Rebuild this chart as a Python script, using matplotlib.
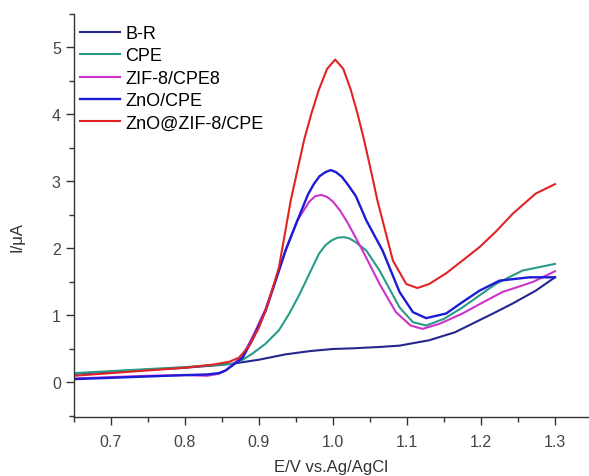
import matplotlib
matplotlib.use("Agg")
import matplotlib.pyplot as plt
from matplotlib.ticker import MultipleLocator

plt.rcParams['font.family'] = ['Liberation Sans', 'DejaVu Sans']

# B-R (bare electrode / buffer)
br_x = [0.65, 0.70, 0.75, 0.80, 0.846, 0.864, 0.90, 0.936, 0.97, 1.0, 1.027,
        1.063, 1.09, 1.13, 1.165, 1.198, 1.22, 1.243, 1.274, 1.30]
br_y = [0.13, 0.16, 0.19, 0.22, 0.26, 0.28, 0.34, 0.42, 0.47, 0.50, 0.51,
        0.53, 0.55, 0.63, 0.75, 0.93, 1.05, 1.18, 1.37, 1.57]

# CPE
cpe_x = [0.65, 0.70, 0.75, 0.80, 0.84, 0.864, 0.878, 0.891, 0.909, 0.927, 0.941,
         0.955, 0.968, 0.981, 0.990, 0.998, 1.006, 1.015, 1.022, 1.030, 1.045,
         1.063, 1.090, 1.108, 1.126, 1.15, 1.175, 1.198, 1.220, 1.256, 1.30]
cpe_y = [0.14, 0.17, 0.20, 0.23, 0.26, 0.28, 0.34, 0.43, 0.58, 0.78, 1.03,
         1.32, 1.62, 1.92, 2.05, 2.12, 2.16, 2.17, 2.15, 2.10, 1.97,
         1.67, 1.12, 0.90, 0.85, 0.95, 1.12, 1.30, 1.47, 1.67, 1.77]

# ZIF-8/CPE8
zif_x = [0.65, 0.70, 0.75, 0.80, 0.83, 0.846, 0.855, 0.866, 0.878, 0.893, 0.909,
         0.922, 0.936, 0.952, 0.968, 0.976, 0.984, 0.992, 1.000, 1.010, 1.020,
         1.040, 1.063, 1.085, 1.105, 1.121, 1.145, 1.175, 1.20, 1.229, 1.270, 1.30]
zif_y = [0.06, 0.08, 0.10, 0.11, 0.10, 0.13, 0.18, 0.28, 0.40, 0.72, 1.10,
         1.52, 1.98, 2.42, 2.70, 2.78, 2.80, 2.77, 2.70, 2.56, 2.38,
         1.97, 1.47, 1.05, 0.85, 0.80, 0.88, 1.03, 1.18, 1.35, 1.50, 1.66]

# ZnO/CPE
zno_x = [0.65, 0.70, 0.75, 0.80, 0.83, 0.846, 0.855, 0.866, 0.878, 0.893, 0.909,
         0.922, 0.936, 0.952, 0.966, 0.974, 0.982, 0.990, 0.997, 1.004, 1.012,
         1.021, 1.031, 1.045, 1.067, 1.090, 1.108, 1.126, 1.153, 1.175, 1.198,
         1.225, 1.266, 1.30]
zno_y = [0.05, 0.07, 0.09, 0.11, 0.12, 0.14, 0.18, 0.27, 0.37, 0.68, 1.07,
         1.50, 1.97, 2.42, 2.80, 2.96, 3.08, 3.14, 3.17, 3.14, 3.07,
         2.94, 2.78, 2.42, 1.97, 1.35, 1.05, 0.96, 1.03, 1.20, 1.37,
         1.52, 1.57, 1.57]

# ZnO@ZIF-8/CPE
comp_x = [0.65, 0.70, 0.75, 0.80, 0.84, 0.86, 0.873, 0.887, 0.90, 0.913, 0.927,
          0.943, 0.961, 0.971, 0.981, 0.992, 1.003, 1.014, 1.024, 1.033, 1.042,
          1.051, 1.060, 1.081, 1.099, 1.114, 1.13, 1.153, 1.175, 1.198, 1.22,
          1.243, 1.274, 1.30]
comp_y = [0.10, 0.14, 0.18, 0.22, 0.27, 0.31, 0.37, 0.55, 0.82, 1.20, 1.72,
          2.72, 3.62, 4.02, 4.37, 4.68, 4.82, 4.68, 4.37, 4.02, 3.62,
          3.18, 2.72, 1.82, 1.47, 1.41, 1.47, 1.63, 1.82, 2.02, 2.25,
          2.52, 2.82, 2.96]

fig = plt.figure(figsize=(5.89, 4.77), dpi=100)
ax = fig.add_axes([0.1256, 0.123, 0.8744, 0.8456])

ax.plot(br_x, br_y, color='#26268f', lw=1.5, label='B-R')
ax.plot(cpe_x, cpe_y, color='#2a9a88', lw=1.5, label='CPE')
ax.plot(zif_x, zif_y, color='#cc33cc', lw=1.5, label='ZIF-8/CPE8')
ax.plot(zno_x, zno_y, color='#1c1cd6', lw=1.7, label='ZnO/CPE')
ax.plot(comp_x, comp_y, color='#e02424', lw=1.5, label='ZnO@ZIF-8/CPE')

ax.set_xlim(0.65, 1.346)
ax.set_ylim(-0.52, 5.5)

for side in ['top', 'right']:
    ax.spines[side].set_visible(False)
for side in ['left', 'bottom']:
    ax.spines[side].set_color('#333333')
    ax.spines[side].set_linewidth(1.0)

ax.xaxis.set_major_locator(MultipleLocator(0.1))
ax.xaxis.set_minor_locator(MultipleLocator(0.05))
ax.yaxis.set_major_locator(MultipleLocator(1))
ax.yaxis.set_minor_locator(MultipleLocator(0.5))
ax.tick_params(which='major', direction='out', length=6, width=1.0,
               colors='#333333', labelsize=11.5, labelcolor='#444444')
ax.tick_params(which='minor', direction='out', length=3.5, width=1.0,
               colors='#333333')
ax.tick_params(axis='x', pad=6)
ax.set_xticklabels([f'{t:.1f}' for t in ax.get_xticks()])

ax.set_xlabel('E/V vs.Ag/AgCl', fontsize=12, color='#333333', labelpad=7)
ax.set_ylabel('I/\u03bcA', fontsize=12, color='#333333')
ax.yaxis.set_label_coords(-0.097, 0.45)

ax.legend(loc='upper left', bbox_to_anchor=(-0.012, 1.004), frameon=False,
          fontsize=13, handlelength=2.2, handletextpad=0.3,
          labelspacing=0.3, borderaxespad=0.3)

fig.savefig('out.png', dpi=100)
